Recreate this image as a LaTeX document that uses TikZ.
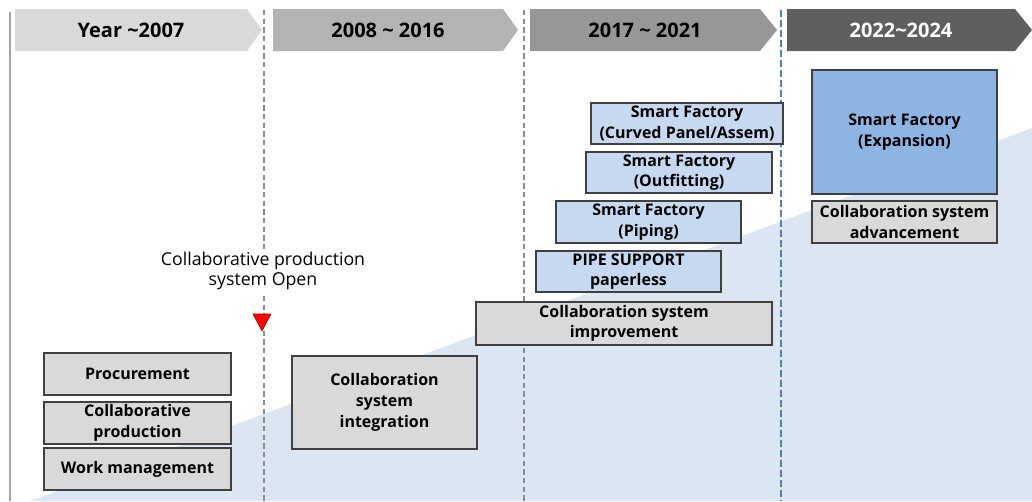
\documentclass[tikz,border=0pt]{standalone}
\usepackage{fontspec}
\setmainfont{Open Sans}
\usepackage{tikz}
\usetikzlibrary{calc}

\definecolor{bgblue}{HTML}{DCE6F2}
\definecolor{sfblue}{HTML}{C6D9F1}
\definecolor{expblue}{HTML}{8DB4E2}
\definecolor{boxgray}{HTML}{D9D9D9}
\definecolor{boxline}{HTML}{404040}
\definecolor{hdrone}{HTML}{D9D9D9}
\definecolor{hdrtwo}{HTML}{B3B3B3}
\definecolor{hdrthree}{HTML}{979797}
\definecolor{hdrfour}{HTML}{5F5F5F}
\definecolor{dashgray}{HTML}{8C8C8C}
\definecolor{dashblue}{HTML}{4F81BD}

\begin{document}
\begin{tikzpicture}[x=0.75pt,y=-0.75pt,
  box/.style={draw=boxline, line width=1.1pt, align=center, inner sep=0pt,
    font=\bfseries\fontsize{12}{15.5}\selectfont},
  graybox/.style={box, fill=boxgray, minimum width=138.75pt, minimum height=31.5pt},
  sfbox/.style={box, fill=sfblue, minimum width=138.75pt, minimum height=30.75pt},
  hdr/.style={font=\bfseries\fontsize{15}{18}\selectfont}]
% Roadmap of the collaboration system, 2007 to 2024
\useasboundingbox (0,0) rectangle (1032,501);
\fill[bgblue] (30,501) -- (1032,128) -- (1032,501) -- cycle;
\draw[line width=1.5pt, color=gray!70] (10,12) -- (10,501);
\draw[dashgray, line width=0.8pt, dash pattern=on 4pt off 2.5pt] (264,10) -- (264,501);
\draw[dashgray, line width=0.8pt, dash pattern=on 4pt off 2.5pt] (524,10) -- (524,501);
\draw[dashblue, line width=1.6pt, dash pattern=on 5.5pt off 2pt] (781,10) -- (781,501);
\fill[hdrone] (15,9) -- (247,9) -- (262,30) -- (247,51) -- (15,51) -- cycle;
\fill[hdrtwo] (273,9) -- (503,9) -- (518,30) -- (503,51) -- (273,51) -- cycle;
\fill[hdrthree] (530,9) -- (760,9) -- (777,30) -- (760,51) -- (530,51) -- cycle;
\fill[hdrfour] (787,9) -- (1015,9) -- (1032,30) -- (1015,51) -- (787,51) -- cycle;
\node[hdr] (yone) at (131,30) {Year \textasciitilde2007};
\node[hdr] (ytwo) at (388,30) {2008 \textasciitilde{} 2016};
\node[hdr] (ythree) at (645,30) {2017 \textasciitilde{} 2021};
\node[hdr, white] (yfour) at (901,30) {2022\textasciitilde2024};
\node[fill=white, align=center, inner sep=2pt, font=\fontsize{13.3}{15.5}\selectfont] (open) at (263,271) {Collaborative production\\system Open};
\fill[red, draw=red!60!black, line width=0.4pt] (253,314) -- (271,314) -- (262,331) -- cycle;
\node[graybox, minimum width=140.25pt] (proc) at (137.5,374) {Procurement};
\node[graybox, minimum width=140.25pt] (colprod) at (137.5,423) {Collaborative\\production};
\node[graybox, minimum width=140.25pt] (work) at (137.5,469) {Work management};
\node[graybox, minimum height=69.75pt] (integ) at (384.5,402.5) {Collaboration\\system\\integration};
\node[graybox, minimum width=222pt, minimum height=32.25pt] (improve) at (624,323.5) {Collaboration system\\improvement};
\node[sfbox, fill=sfblue, minimum width=138.75pt] (pipe) at (628.5,271.5) {PIPE SUPPORT\\paperless};
\node[sfbox, minimum height=31.5pt] (piping) at (648.5,222) {Smart Factory\\(Piping)};
\node[sfbox, minimum width=139.5pt] (outfit) at (679,172.5) {Smart Factory\\(Outfitting)};
\node[sfbox, minimum width=144pt] (curved) at (687,123.5) {Smart Factory\\(Curved Panel/Assem)};
\node[box, fill=expblue, minimum width=138.75pt, minimum height=93pt] (expand) at (904.5,132) {Smart Factory\\(Expansion)};
\node[graybox] (advance) at (904.5,222) {Collaboration system\\advancement};
\end{tikzpicture}
\end{document}
